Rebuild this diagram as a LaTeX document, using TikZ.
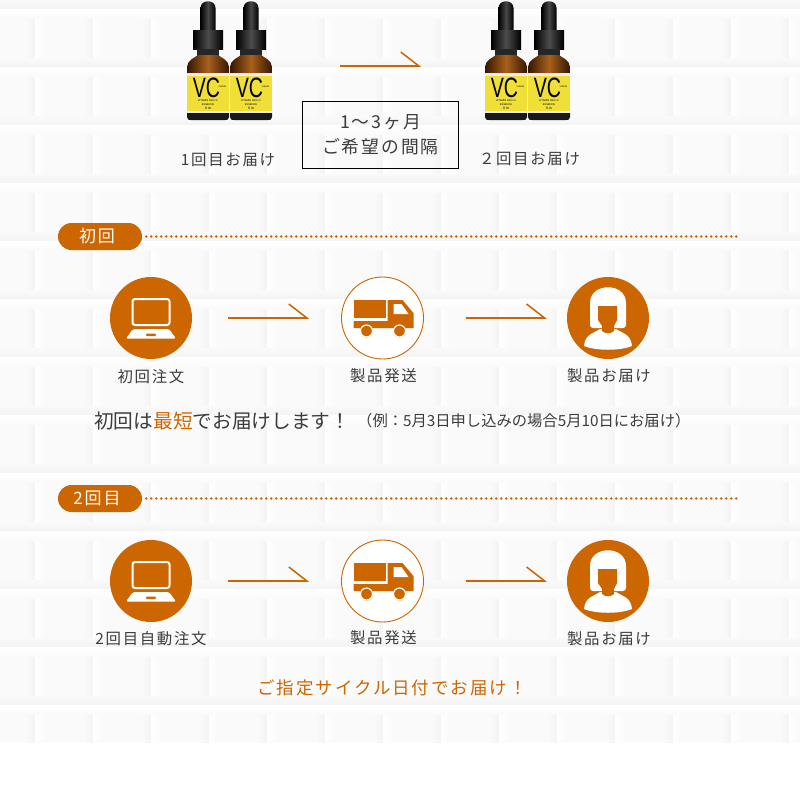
\documentclass[tikz,border=0pt]{standalone}
\usepackage{fontspec}
\usepackage{xcolor}
\usepackage{tikz}
\usetikzlibrary{arrows.meta}
\newfontfamily\jpfont[LetterSpace=11]{Noto Sans CJK JP}
\newfontfamily\jpplain{Noto Sans CJK JP}
\newfontfamily\capfont{Liberation Sans}
\definecolor{brand}{HTML}{CC6600}
\definecolor{inkgrey}{HTML}{3C3C3C}
\definecolor{tile}{HTML}{FAFAFA}
\definecolor{groove}{HTML}{F3F3F3}
\definecolor{amberdark}{HTML}{351703}
\definecolor{amberlight}{HTML}{A9601C}
\definecolor{labelyellow}{HTML}{F0DF36}
\tikzset{
    lbl/.style={font=\jpfont\fontsize{15.4}{17}\selectfont,text=inkgrey,inner sep=0pt},
    pilltag/.style={fill=brand,text=white,rounded corners=13.5pt,minimum width=84pt,minimum height=27pt,inner sep=0pt,font=\jpfont\fontsize{17}{19}\selectfont},
    dotline/.style={brand,line width=2.8pt,line cap=round,dash pattern=on 0pt off 5pt},
    solidcirc/.style={circle,fill=brand,minimum size=82pt,inner sep=0pt},
    ringcirc/.style={circle,draw=brand,fill=white,line width=0.9pt,minimum size=82pt,inner sep=0pt},
    flowarrow/.style={brand,line width=1.5pt,-{Straight Barb[left,length=18pt,width=28pt,line width=1.5pt]}},
    intervalbox/.style={draw=black,line width=1pt,minimum width=156pt,minimum height=67pt,inner sep=0pt,align=center,text=inkgrey,font=\jpfont\fontsize{17.8}{25}\selectfont},
    bottle/.pic={
        \shade[left color=black,right color=black,middle color=black!72] (-7.5,31) -- (-7.5,8) .. controls (-7.5,-1) and (7.5,-1) .. (7.5,8) -- (7.5,31) -- cycle;
        \shade[left color=black,right color=black,middle color=black!70] (-15,30) rectangle (15,49);
        \fill[black!85] (-11,49) rectangle (11,56);
        \shade[left color=amberdark,right color=amberdark,middle color=amberlight] (-21,74) -- (-21,67) .. controls (-21,60) and (-12,57) .. (-10,55) -- (10,55) .. controls (12,57) and (21,60) .. (21,67) -- (21,74) -- cycle;
        \fill[white!92!black] (-21,73) rectangle (21,76);
        \fill[labelyellow] (-21,76) rectangle (21,111);
        \fill[white!92!black] (-21,111) rectangle (21,113);
        \fill[black!90] (-21,113) -- (21,113) -- (21,117) .. controls (21,120) and (19,120) .. (17,120) -- (-17,120) .. controls (-19,120) and (-21,120) .. (-21,117) -- cycle;
        \node[inner sep=0pt,font=\capfont\fontsize{28}{28}\selectfont,text=black] (vcmark) at (-1.5,88) {\scalebox{.7}[1]{VC}};
        \node[inner sep=0pt,font=\capfont\fontsize{2.2}{2.2}\selectfont,text=black] (virgintag) at (14.5,87) {VIRGIN};
        \node[inner sep=0pt,font=\capfont\fontsize{2.6}{2.6}\selectfont,text=black] (richtag) at (0,101) {VITAMIN RICH C};
        \node[inner sep=0pt,font=\capfont\fontsize{2.6}{2.6}\selectfont,text=black] (essencetag) at (0,104.5) {ESSENCE};
        \node[inner sep=0pt,font=\capfont\fontsize{3.6}{3.6}\selectfont,text=black] (volumetag) at (0,108.6) {II in};
    },
    laptop/.pic={
        \draw[white,line width=2pt,rounded corners=2.5pt] (-18.5,-19) rectangle (18.5,7);
        \fill[white,rounded corners=1.5pt] (-18,11) -- (18,11) -- (25,20.5) -- (-25,20.5) -- cycle;
        \fill[brand,rounded corners=1pt] (-5,15.5) rectangle (5,18);
    },
    truck/.pic={
        \fill[brand] (-29,-18) rectangle (3,0);
        \fill[brand] (5,-18) -- (20,-18) -- (31,-5) -- (31,10) -- (-29,10) -- (-29,3) -- (5,3) -- cycle;
        \fill[white] (11,-14) -- (19,-14) -- (26,-4) -- (11,-4) -- cycle;
        \foreach \wx in {-16,17}{
            \fill[brand] (\wx,13) circle (6.5);
            \draw[white,line width=1.2pt] (\wx,13) circle (6);
            \fill[brand] (\wx,13) circle (4.6);
        }
    },
    customer/.pic={
        \fill[white,rounded corners=3pt] (-18,10) -- (-18,-12) .. controls (-18,-36) and (18,-36) .. (18,-12) -- (18,10) -- cycle;
        \fill[white] (-8,11) .. controls (-14,15) and (-23,16) .. (-24,28) .. controls (-12,33) and (12,33) .. (24,28) .. controls (23,16) and (14,15) .. (8,11) -- cycle;
        \fill[brand] (-8,-12) -- (9,-12) -- (9,2) -- (6,8) -- (6,13) .. controls (3,16) and (-3,16) .. (-6,13) -- (-6,8) -- (-10,2) -- (-10,-12) -- cycle;
    },
}
\begin{document}
\begin{tikzpicture}[x=1pt,y=-1pt]
    \useasboundingbox (0,0) rectangle (800,785);
    \fill[white] (0,0) rectangle (800,785);
    \fill[tile] (0,0) rectangle (800,742);
    \foreach \gx in {35,93,...,790}{
        \shade[left color=tile,right color=groove] (\gx-9,0) rectangle (\gx,742);
        \shade[left color=white,right color=tile] (\gx,0) rectangle (\gx+9,742);
    }
    \foreach \gy in {9,67,...,730}{
        \shade[top color=tile,bottom color=groove] (0,\gy-9) rectangle (800,\gy);
        \shade[top color=white,bottom color=tile] (0,\gy) rectangle (800,\gy+9);
    }

    \pic at (208,0) {bottle};
    \pic at (251,0) {bottle};
    \pic at (506,0) {bottle};
    \pic at (549,0) {bottle};
    \coordinate (firstship) at (340,66);
    \coordinate (nextship) at (421,66);
    \draw[flowarrow] (firstship) -- (nextship);
    \node[intervalbox] (interval) at (380.5,134.5) {1〜3ヶ月\\ご希望の間隔};
    \node[lbl] (firstlabel) at (228,159.5) {1回目お届け};
    \node[lbl] (secondlabel) at (529.5,158.5) {２回目お届け};

    \node[pilltag] (firsttag) at (100,236.5) {\hspace*{-6pt}初回};
    \coordinate (firstdots) at (741,236.5);
    \draw[dotline] ([xshift=4pt]firsttag.east) -- (firstdots);

    \node[solidcirc] (orderA) at (151,318) {};
    \node[ringcirc] (shipA) at (382.5,318) {};
    \node[solidcirc] (homeA) at (608,318) {};
    \pic at (orderA) {laptop};
    \pic at (shipA) {truck};
    \pic at (homeA) {customer};
    \draw[flowarrow,shorten <=36pt,shorten >=32pt] (orderA.east) -- (shipA.west);
    \draw[flowarrow,shorten <=42pt,shorten >=20pt] (shipA.east) -- (homeA.west);
    \node[lbl] (orderAlabel) at (151,377) {初回注文};
    \node[lbl] (shipAlabel) at (383.5,376) {製品発送};
    \node[lbl] (homeAlabel) at (609,376) {製品お届け};

    \node[lbl,anchor=west,font=\jpplain\fontsize{19.7}{22}\selectfont,text=inkgrey] (fastline) at (94,421) {初回は\textcolor{brand}{最短}でお届けします！};
    \node[lbl,anchor=west,font=\jpplain\fontsize{15.3}{17}\selectfont,text=inkgrey] (exampleline) at (357,421) {（例：5月3日申し込みの場合5月10日にお届け）};

    \node[pilltag] (secondtag) at (100,498.5) {\hspace*{-6pt}2回目};
    \coordinate (seconddots) at (741,498.5);
    \draw[dotline] ([xshift=4pt]secondtag.east) -- (seconddots);

    \node[solidcirc] (orderB) at (151,581) {};
    \node[ringcirc] (shipB) at (382.5,581) {};
    \node[solidcirc] (homeB) at (608,581) {};
    \pic at (orderB) {laptop};
    \pic at (shipB) {truck};
    \pic at (homeB) {customer};
    \draw[flowarrow,shorten <=36pt,shorten >=32pt] (orderB.east) -- (shipB.west);
    \draw[flowarrow,shorten <=42pt,shorten >=20pt] (shipB.east) -- (homeB.west);
    \node[lbl] (orderBlabel) at (151,639) {2回目自動注文};
    \node[lbl] (shipBlabel) at (383.5,638) {製品発送};
    \node[lbl] (homeBlabel) at (609,639) {製品お届け};

    \node[lbl,font=\jpfont\fontsize{17.5}{20}\selectfont,text=brand] (cycleline) at (392,688) {ご指定サイクル日付でお届け！};
\end{tikzpicture}
\end{document}
